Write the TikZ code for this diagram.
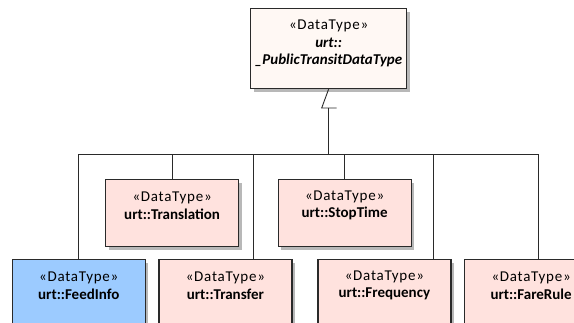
\documentclass[tikz,border=0pt]{standalone}
\usepackage{fontspec}
\setmainfont{Carlito}
\newfontfamily\stfont[LetterSpace=5]{Carlito}
\usetikzlibrary{shadows}
\definecolor{pinkf}{HTML}{FFE2DE}
\definecolor{bluef}{HTML}{9CCBFF}
\definecolor{topf}{HTML}{FFF8F4}
\definecolor{edge}{HTML}{2A2A2A}
\newcommand{\stype}{{\stfont «DataType»}}
\begin{document}
\begin{tikzpicture}[x=1pt,y=-1pt,
  box/.style={draw=edge, line width=1.2pt, rectangle, anchor=north west, inner sep=0pt,
    minimum width=133pt, minimum height=67pt,
    drop shadow={shadow xshift=3pt, shadow yshift=-3pt, fill=black!28, opacity=1}},
  pinkbox/.style={box, fill=pinkf},
  txt/.style={font=\fontsize{15}{17.5}\selectfont, align=center, inner sep=0pt, anchor=center},
  conn/.style={draw=edge, line width=0.9pt}]
\useasboundingbox (0,0) rectangle (574,323);
\begin{scope}
\clip (0,0) rectangle (574,323);
% boxes
\node[box, fill=topf, minimum width=156pt, minimum height=80pt] (par) at (250,8) {};
\node[pinkbox] (tr) at (105,179) {};
\node[pinkbox] (st) at (277.5,179) {};
\node[box, fill=bluef] (fi) at (11.7,259) {};
\node[pinkbox] (tf) at (158.3,259) {};
\node[pinkbox] (fq) at (317.3,259) {};
\node[pinkbox] (fr) at (464,259) {};
% texts
\node[txt] (part) at ([yshift=5pt]par.center) {\stype\\\textbf{\textit{urt::}}\\\textbf{\textit{\_PublicTransitDataType}}};
\node[txt] (trt) at ([yshift=-26.5pt]tr.north) {\stype\\\textbf{urt::Translation}};
\node[txt] (stt) at ([yshift=-26.5pt]st.north) {\stype\\\textbf{urt::StopTime}};
\node[txt] (fit) at ([yshift=-26.5pt]fi.north) {\stype\\\textbf{urt::FeedInfo}};
\node[txt] (tft) at ([yshift=-26.5pt]tf.north) {\stype\\\textbf{urt::Transfer}};
\node[txt] (fqt) at ([yshift=-26.5pt]fq.north) {\stype\\\textbf{urt::Frequency}};
\node[txt] (frt) at ([yshift=-26.5pt]fr.north) {\stype\\\textbf{urt::FareRule}};
% connector points
\coordinate (gen) at (328,108);
\coordinate (gl) at (321.7,108);
\coordinate (gr) at (336.7,108);
\coordinate (bus) at (328,154);
\coordinate (tfc) at ([xshift=94.7pt]tf.north west);
\coordinate (fqc) at ([xshift=115.7pt]fq.north west);
\coordinate (frc) at ([xshift=74pt]fr.north west);
% connectors
\draw[conn] (par.south) -- (gl) -- (gr);
\draw[conn] (gen) -- (bus);
\draw[conn] (fi.north) |- (bus);
\draw[conn] (tr.north) |- (bus);
\draw[conn] (tfc) |- (bus);
\draw[conn] (st.north) |- (bus);
\draw[conn] (fqc) |- (bus);
\draw[conn] (frc) |- (bus);
\end{scope}
\end{tikzpicture}
\end{document}
